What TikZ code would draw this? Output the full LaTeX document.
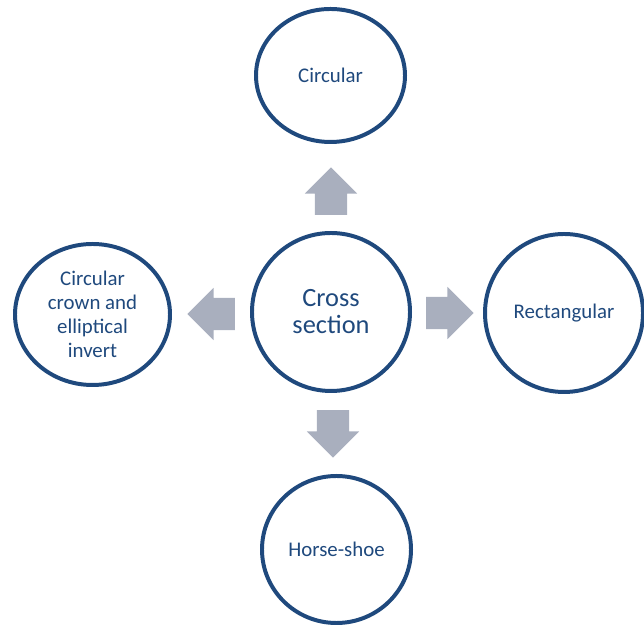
\documentclass[tikz,border=0pt]{standalone}
\usepackage{fontspec}
\setmainfont{Carlito}
\usepackage{tikz}
\usetikzlibrary{shapes.geometric, shapes.arrows}
\definecolor{navy}{HTML}{1F497D}
\definecolor{greyblue}{HTML}{A9AFBE}

\begin{document}
\begin{tikzpicture}[x=0.03cm, y=0.03cm,
      every node/.style={font=\fontsize{17.8}{20.5}\selectfont},
      bubble/.style={ellipse, draw=navy, line width=3.4pt, text=navy,
        inner sep=0pt, align=center},
      blockarr/.style={single arrow, fill=greyblue, draw=none, anchor=tail,
        inner xsep=0pt, inner ysep=0.48cm, minimum height=1.42cm,
        single arrow head extend=0.3cm, single arrow head indent=0pt},
    ]
      \useasboundingbox (0,0) rectangle (644,626);

      \node[bubble, minimum width=4.74cm, minimum height=4.74cm,
            font=\fontsize{22.5}{23}\selectfont] (cross) at (331,314) {Cross\\section};

      \node[bubble, minimum width=4.47cm, minimum height=3.99cm] (circ) at (330.5,550.5) {Circular};
      \node[bubble, minimum width=4.65cm, minimum height=4.23cm] (crown) at (92.5,311.5) {Circular\\crown and\\elliptical\\invert};
      \node[bubble, minimum width=4.74cm, minimum height=4.74cm] (rect) at (564,313) {Rectangular};
      \node[bubble, minimum width=4.47cm, minimum height=4.41cm] (horse) at (336.5,76.5) {Horse-shoe};

      \node[blockarr, rotate=90] (aup) at (331,411) {};
      \node[blockarr, rotate=180] (aleft) at (235,312) {};
      \node[blockarr] (aright) at (426,313) {};
      \node[blockarr, rotate=270] (adown) at (333,216) {};
    \end{tikzpicture}
\end{document}
